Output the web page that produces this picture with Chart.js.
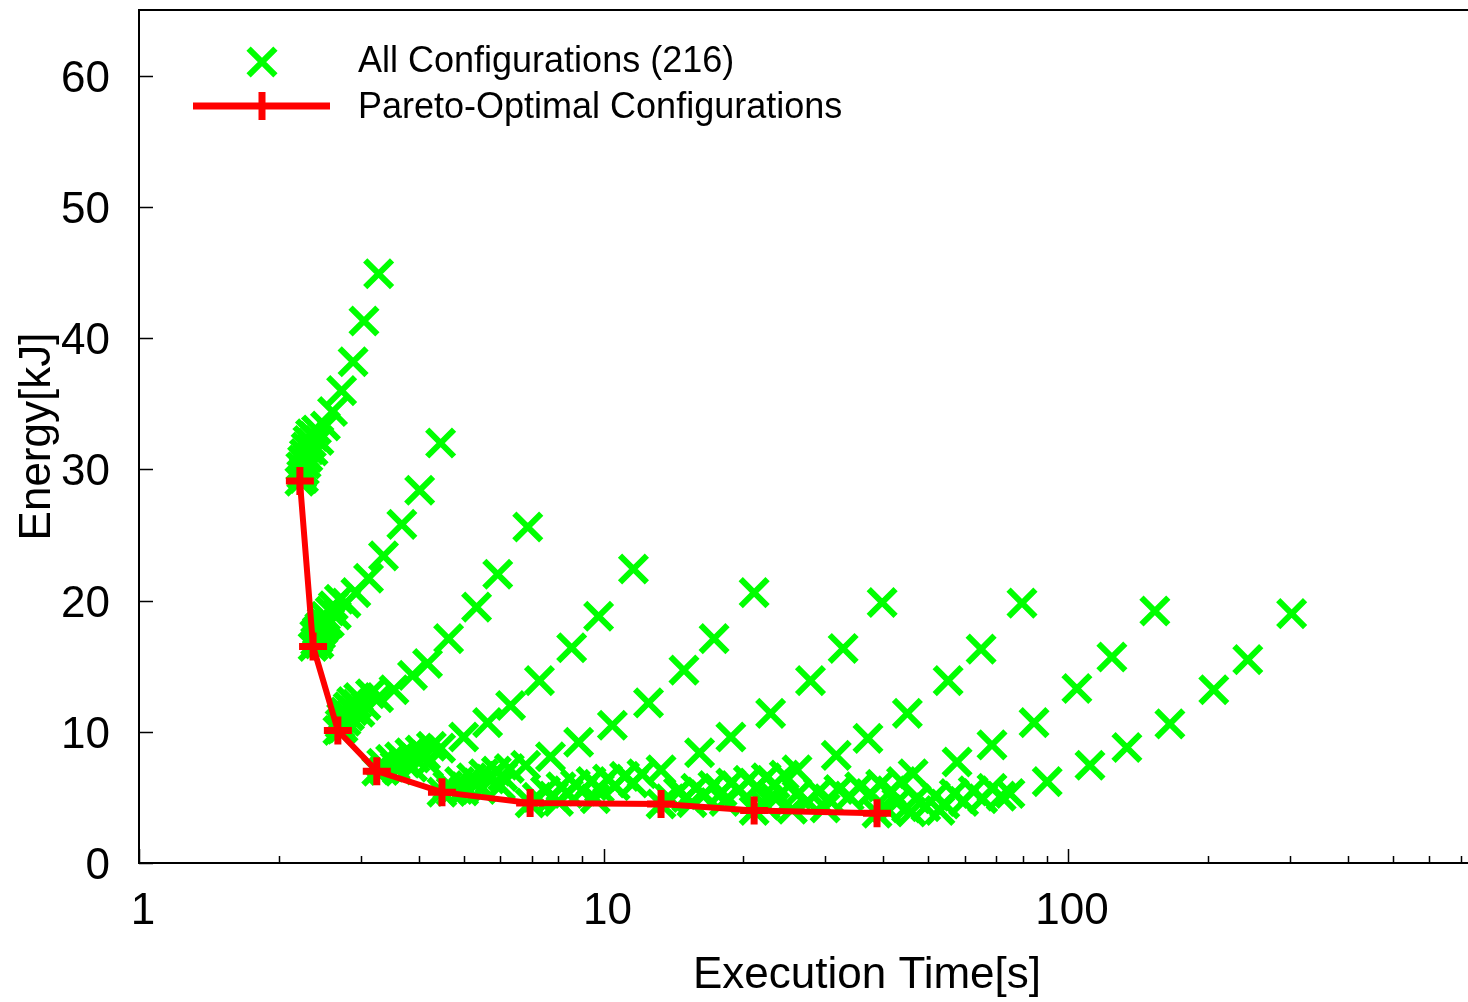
<!DOCTYPE html>
<html>
<head>
<meta charset="utf-8">
<script src="https://cdn.jsdelivr.net/npm/chart.js@4.4.1/dist/chart.umd.min.js"></script>
<style>
  html, body { margin: 0; padding: 0; background: #fff; overflow: hidden; }
  #wrap { width: 1600px; height: 1002px; position: relative; }
</style>
</head>
<body>
<div id="wrap"><canvas id="chart"></canvas></div>
<script>
// execution time [s] / energy [kJ] per configuration, one group per core setting
const group1 = [
  [3.28, 44.9], [3.05, 41.3], [2.89, 38.2], [2.73, 36.0], [2.61, 34.4], [2.52, 33.3], [2.44, 32.2], [2.37, 31.4],
  [2.22, 29.1], [2.24, 29.6], [2.23, 30.2], [2.27, 29.9], [2.25, 30.7], [2.29, 30.4], [2.27, 31.2], [2.31, 30.9],
  [2.29, 31.7], [2.33, 31.5], [2.31, 32.2], [2.35, 32.0], [2.34, 32.7], [2.38, 32.5], [2.41, 33.0], [2.26, 29.3]
];
const group2 = [
  [4.46, 32.0], [4.02, 28.4], [3.68, 25.8], [3.36, 23.4], [3.12, 21.7], [2.93, 20.6], [2.79, 19.8], [2.66, 18.9], [2.57, 18.3],
  [2.37, 16.5], [2.40, 16.9], [2.39, 17.4], [2.43, 17.1], [2.42, 17.7], [2.46, 17.4], [2.45, 18.0], [2.49, 17.8],
  [2.48, 18.4], [2.53, 18.1], [2.52, 18.8], [2.58, 19.2], [2.62, 19.6], [2.70, 20.1], [2.44, 16.7]
];
const group3 = [
  [6.87, 25.6], [5.92, 22.0], [5.33, 19.5], [4.64, 17.1], [4.18, 15.2], [3.88, 14.3], [3.54, 13.2], [3.28, 12.6], [3.08, 12.0],
  [2.68, 10.1], [2.71, 10.6], [2.75, 10.3], [2.73, 11.1], [2.79, 10.8], [2.77, 11.5], [2.84, 11.2], [2.82, 11.9],
  [2.89, 11.6], [2.94, 12.1], [2.99, 11.5], [2.87, 12.3], [2.72, 10.2], [2.97, 12.6], [3.15, 12.9]
];
const group4 = [
  [11.6, 22.4], [9.76, 18.8], [8.54, 16.4], [7.28, 13.9], [6.31, 12.0], [5.63, 10.7], [5.0, 9.6], [4.46, 8.75],
  [3.25, 7.0], [3.33, 7.6], [3.40, 7.2], [3.48, 7.9], [3.56, 7.4], [3.64, 8.1], [3.73, 7.7], [3.83, 8.4],
  [3.93, 8.0], [4.03, 8.6], [4.14, 8.2], [4.26, 8.9], [3.37, 7.05], [3.60, 7.1], [3.88, 7.3], [4.20, 7.6]
];
const group5 = [
  [21.1, 20.6], [17.3, 17.1], [14.9, 14.7], [12.5, 12.2], [10.45, 10.5], [8.84, 9.2], [7.69, 8.1], [6.8, 7.45],
  [4.49, 5.4], [4.62, 5.9], [4.76, 5.6], [4.90, 6.2], [5.05, 5.8], [5.20, 6.5], [5.36, 6.1], [5.52, 6.8],
  [5.70, 6.4], [5.88, 7.0], [6.07, 6.6], [6.27, 7.2], [4.70, 5.45], [5.00, 5.5], [5.45, 5.6], [6.00, 5.9]
];
const group6 = [
  [39.8, 19.85], [32.8, 16.35], [27.9, 13.9], [22.9, 11.4], [18.8, 9.6], [16.1, 8.4], [13.3, 7.1],
  [6.95, 4.57], [7.2, 5.0], [7.5, 5.5], [7.8, 5.1], [8.1, 5.8], [8.4, 5.3], [8.7, 6.0], [9.0, 5.5], [9.4, 6.2],
  [9.8, 5.7], [10.2, 6.4], [10.6, 5.9], [11.1, 6.6], [11.6, 6.1], [12.1, 6.8], [8.0, 4.7], [9.6, 4.9]
];
const group7 = [
  [79.6, 19.8], [65.0, 16.3], [55.2, 13.9], [45.1, 11.4], [37.1, 9.5], [31.7, 8.2], [26.1, 7.1],
  [13.3, 4.5], [13.9, 4.9], [14.5, 5.4], [15.1, 5.0], [15.8, 5.7], [16.5, 5.2], [17.2, 5.9], [18.0, 5.4],
  [18.8, 6.1], [19.6, 5.6], [20.5, 6.3], [21.4, 5.8], [22.4, 6.5], [23.4, 6.0], [24.5, 6.7], [15.5, 4.6], [18.2, 4.7]
];
const group8 = [
  [153.8, 19.2], [124.3, 15.7], [104.5, 13.3], [84.5, 10.7], [68.6, 9.0], [57.7, 7.7], [46.4, 6.8],
  [21.1, 4.0], [22.3, 4.4], [23.5, 4.9], [24.8, 4.5], [26.1, 5.2], [27.5, 4.7], [29.0, 5.4], [30.5, 4.9],
  [32.1, 5.6], [33.8, 5.1], [35.6, 5.8], [37.5, 5.3], [39.5, 6.0], [41.6, 5.5], [43.8, 6.2], [25.5, 4.1], [30.0, 4.2]
];
const group9 = [
  [303, 19.0], [243.8, 15.5], [206, 13.2], [165.7, 10.6], [133.9, 8.8], [111.5, 7.45], [90.2, 6.2], [75.0, 5.3],
  [38.8, 3.8], [40.8, 4.1], [42.8, 4.6], [44.9, 4.2], [47.1, 4.9], [49.4, 4.3], [51.8, 5.1], [54.3, 4.5],
  [56.9, 5.3], [59.6, 4.7], [62.5, 5.5], [65.5, 4.9], [68.6, 5.7], [71.8, 5.1], [46.0, 3.9], [53.0, 4.0]
];

const paretoTime = [2.22, 2.37, 2.68, 3.25, 4.49, 6.95, 13.3, 21.1, 38.8];
const paretoEnergy = [29.1, 16.5, 10.1, 7.0, 5.4, 4.57, 4.5, 4.0, 3.8];

const xTickLabels = [1, 10, 100, 1000];
const yTickLabels = [0, 10, 20, 30, 40, 50, 60];

const allConfigs = [group1, group2, group3, group4, group5, group6, group7, group8, group9].flat();

const FONT = '"Liberation Sans", Arial, sans-serif';

// gnuplot-like frame: border box, inward ticks, labels, titles and key
const gnuplotFrame = {
  id: 'gnuplotFrame',
  afterDatasetsDraw(chart) {
    const { ctx, chartArea: a, scales: { x, y } } = chart;
    ctx.save();
    ctx.strokeStyle = '#000';
    ctx.lineWidth = 2;
    ctx.strokeRect(a.left, a.top, a.right - a.left, a.bottom - a.top);

    ctx.beginPath();
    yTickLabels.forEach(v => {
      const py = Math.round(y.getPixelForValue(v)) + 0.5;
      ctx.moveTo(a.left, py);
      ctx.lineTo(a.left + 14, py);
    });
    for (let d = 1; d <= 1000; d *= 10) {
      for (let k = 1; k <= 9; k++) {
        const v = k * d;
        if (v > x.max) break;
        const px = Math.round(x.getPixelForValue(v)) + 0.5;
        ctx.moveTo(px, a.bottom);
        ctx.lineTo(px, a.bottom - (k === 1 ? 14 : 7));
      }
    }
    ctx.lineWidth = 1.5;
    ctx.stroke();
    ctx.restore();
  },
  afterDraw(chart) {
    const { ctx, chartArea: a, scales: { x, y } } = chart;
    ctx.save();
    ctx.fillStyle = '#000';
    ctx.font = '44px ' + FONT;

    ctx.textAlign = 'right';
    ctx.textBaseline = 'alphabetic';
    yTickLabels.forEach(v => ctx.fillText(String(v), 110, y.getPixelForValue(v) + 16));

    ctx.textAlign = 'center';
    xTickLabels.forEach(v => ctx.fillText(String(v), x.getPixelForValue(v) + 4, 924));

    ctx.fillText('Execution Time[s]', (a.left + a.right) / 2, 988);

    ctx.save();
    ctx.translate(50, (a.top + a.bottom) / 2);
    ctx.rotate(-Math.PI / 2);
    ctx.fillText('Energy[kJ]', 0, 0);
    ctx.restore();

    // key
    ctx.lineCap = 'butt';
    const r = 19 * Math.SQRT1_2;
    ctx.strokeStyle = '#00ff00';
    ctx.lineWidth = 6;
    ctx.beginPath();
    ctx.moveTo(262 - r, 62 - r); ctx.lineTo(262 + r, 62 + r);
    ctx.moveTo(262 + r, 62 - r); ctx.lineTo(262 - r, 62 + r);
    ctx.stroke();

    ctx.strokeStyle = '#ff0000';
    ctx.lineWidth = 7;
    ctx.beginPath();
    ctx.moveTo(193, 106); ctx.lineTo(330, 106);
    ctx.moveTo(262, 92); ctx.lineTo(262, 120);
    ctx.stroke();

    ctx.font = '36px ' + FONT;
    ctx.textAlign = 'left';
    ctx.fillText('All Configurations (216)', 358, 72);
    ctx.fillText('Pareto-Optimal Configurations', 358, 118);
    ctx.restore();
  }
};

new Chart(document.getElementById('chart'), {
  type: 'scatter',
  data: {
    datasets: [
      {
        label: 'Pareto-Optimal Configurations',
        data: paretoTime.map((t, i) => ({ x: t, y: paretoEnergy[i] })),
        showLine: true,
        borderColor: '#ff0000',
        borderWidth: 6,
        pointStyle: 'cross',
        pointRadius: 14,
        pointBorderColor: '#ff0000',
        pointBackgroundColor: '#ff0000',
        pointBorderWidth: 7,
        order: 0
      },
      {
        label: 'All Configurations (216)',
        data: allConfigs.map(([t, e]) => ({ x: t, y: e })),
        pointStyle: 'crossRot',
        pointRadius: 19,
        pointBorderColor: '#00ff00',
        pointBackgroundColor: '#00ff00',
        pointBorderWidth: 6,
        order: 1
      }
    ]
  },
  options: {
    responsive: true,
    maintainAspectRatio: false,
    animation: false,
    events: [],
    layout: { autoPadding: false, padding: { left: 139, top: 10, right: 5, bottom: 139 } },
    scales: {
      x: { type: 'logarithmic', min: 1, max: 1363, display: false },
      y: { type: 'linear', min: 0, max: 65, display: false }
    },
    plugins: { legend: { display: false }, tooltip: { enabled: false } }
  },
  plugins: [gnuplotFrame]
});
</script>
</body>
</html>
